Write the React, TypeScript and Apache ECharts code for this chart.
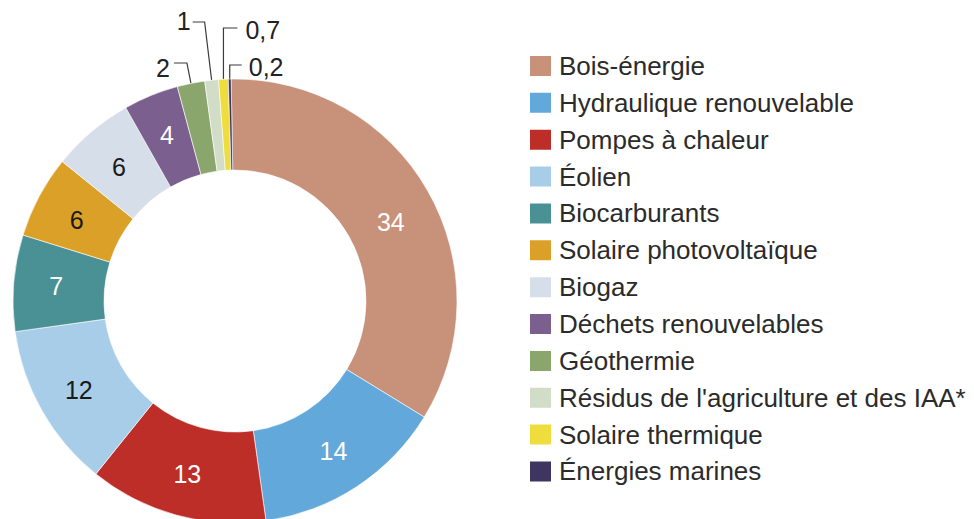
import React, { useEffect, useRef } from 'react';
import * as echarts from 'echarts';

const categories = [
  'Bois-énergie',
  'Hydraulique renouvelable',
  'Pompes à chaleur',
  'Éolien',
  'Biocarburants',
  'Solaire photovoltaïque',
  'Biogaz',
  'Déchets renouvelables',
  'Géothermie',
  "Résidus de l'agriculture et des IAA*",
  'Solaire thermique',
  'Énergies marines',
];
const values = [34, 14, 13, 12, 7, 6, 6, 4, 2, 1, 0.7, 0.2];
const valueLabels = ['34', '14', '13', '12', '7', '6', '6', '4', '2', '1', '0,7', '0,2'];
const colors = [
  '#C8917A', '#62A8DB', '#BE2E29', '#A7CDE8', '#4A9195', '#DBA027',
  '#D6DEE9', '#7B5F8E', '#8BA66C', '#D1DDC6', '#EEDD3C', '#3E3660',
];
const labelColors = [
  '#ffffff', '#ffffff', '#ffffff', '#1a1a1a', '#ffffff', '#1a1a1a',
  '#1a1a1a', '#ffffff', '#222222', '#222222', '#222222', '#222222',
];

// small nudges of some inside labels (by data index)
const insideOffsets: Record<number, [number, number]> = {
  0: [0, 10],
  5: [0, 4],
  6: [0, 3],
};

// layout of the leader-lined outer labels (by data index)
const outerSpecs: Record<number, { dx: number; lineY: number; arm: number; gap: number; textY: number; side: 'left' | 'right' }> = {
  8: { dx: -4, lineY: 63, arm: 13, gap: 4, textY: 68, side: 'left' },
  9: { dx: -7, lineY: 22, arm: 12, gap: 2, textY: 21, side: 'left' },
  10: { dx: 0, lineY: 28, arm: 14, gap: 8, textY: 30, side: 'right' },
  11: { dx: 0, lineY: 65, arm: 12, gap: 7, textY: 67, side: 'right' },
};

const CX = 235;
const CY = 301;
const R_IN = 131;
const R_OUT = 222;
const START = 91;
const FONT = "'Liberation Sans', Arial, Helvetica, sans-serif";

export default function App() {
  const ref = useRef<HTMLDivElement>(null);
  useEffect(() => {
    const chart = echarts.init(ref.current!, null, { renderer: 'svg' });
    const total = values.reduce((a, b) => a + b, 0);
    const mids: number[] = [];
    let acc = 0;
    values.forEach((v) => {
      mids.push(START - (360 * (acc + v / 2)) / total);
      acc += v;
    });
    const data = values.map((v, i) => {
      const outer = outerSpecs[i];
      return {
        name: categories[i],
        value: v,
        itemStyle: { color: colors[i] },
        label: outer
          ? { show: true, position: 'outside', color: labelColors[i] }
          : { show: true, position: 'inside', color: labelColors[i], offset: insideOffsets[i] || [0, 0] },
        labelLine: { show: !!outer, lineStyle: { color: '#3a3a3a', width: 1.2 } },
      };
    });
    chart.setOption({
      animation: false,
      legend: {
        orient: 'vertical',
        left: 528,
        top: 53,
        padding: 0,
        itemWidth: 23,
        itemHeight: 22,
        itemGap: 10.86,
        icon: 'rect',
        data: categories,
        selectedMode: false,
        textStyle: { fontSize: 26, fontFamily: FONT, color: '#2b2b2b', padding: [0, 0, 0, 2] },
      },
      series: [
        {
          type: 'pie',
          center: [CX, CY],
          radius: [R_IN, R_OUT],
          startAngle: START,
          clockwise: true,
          avoidLabelOverlap: false,
          silent: true,
          itemStyle: { borderColor: '#ffffff', borderWidth: 0.6 },
          label: {
            fontSize: 25,
            fontFamily: FONT,
            formatter: (p: any) => valueLabels[p.dataIndex],
          },
          labelLayout: (p: any) => {
            const spec = outerSpecs[p.dataIndex];
            if (!spec) return {};
            const a = (mids[p.dataIndex] * Math.PI) / 180;
            const ax = CX + R_OUT * Math.cos(a);
            const ay = CY - R_OUT * Math.sin(a);
            const ex = ax + spec.dx;
            const ey = spec.lineY;
            const tx = spec.side === 'left' ? ex - spec.arm : ex + spec.arm;
            return {
              x: spec.side === 'left' ? tx - spec.gap : tx + spec.gap,
              y: spec.textY,
              align: spec.side === 'left' ? 'right' : 'left',
              verticalAlign: 'middle',
              labelLinePoints: [
                [ax, ay],
                [ex, ey],
                [tx, ey],
              ],
            };
          },
          data,
        },
      ],
    });
    return () => chart.dispose();
  }, []);
  return (
    <div
      ref={ref}
      style={{ position: 'fixed', left: 0, top: 0, width: 974, height: 519, background: '#ffffff' }}
    />
  );
}
